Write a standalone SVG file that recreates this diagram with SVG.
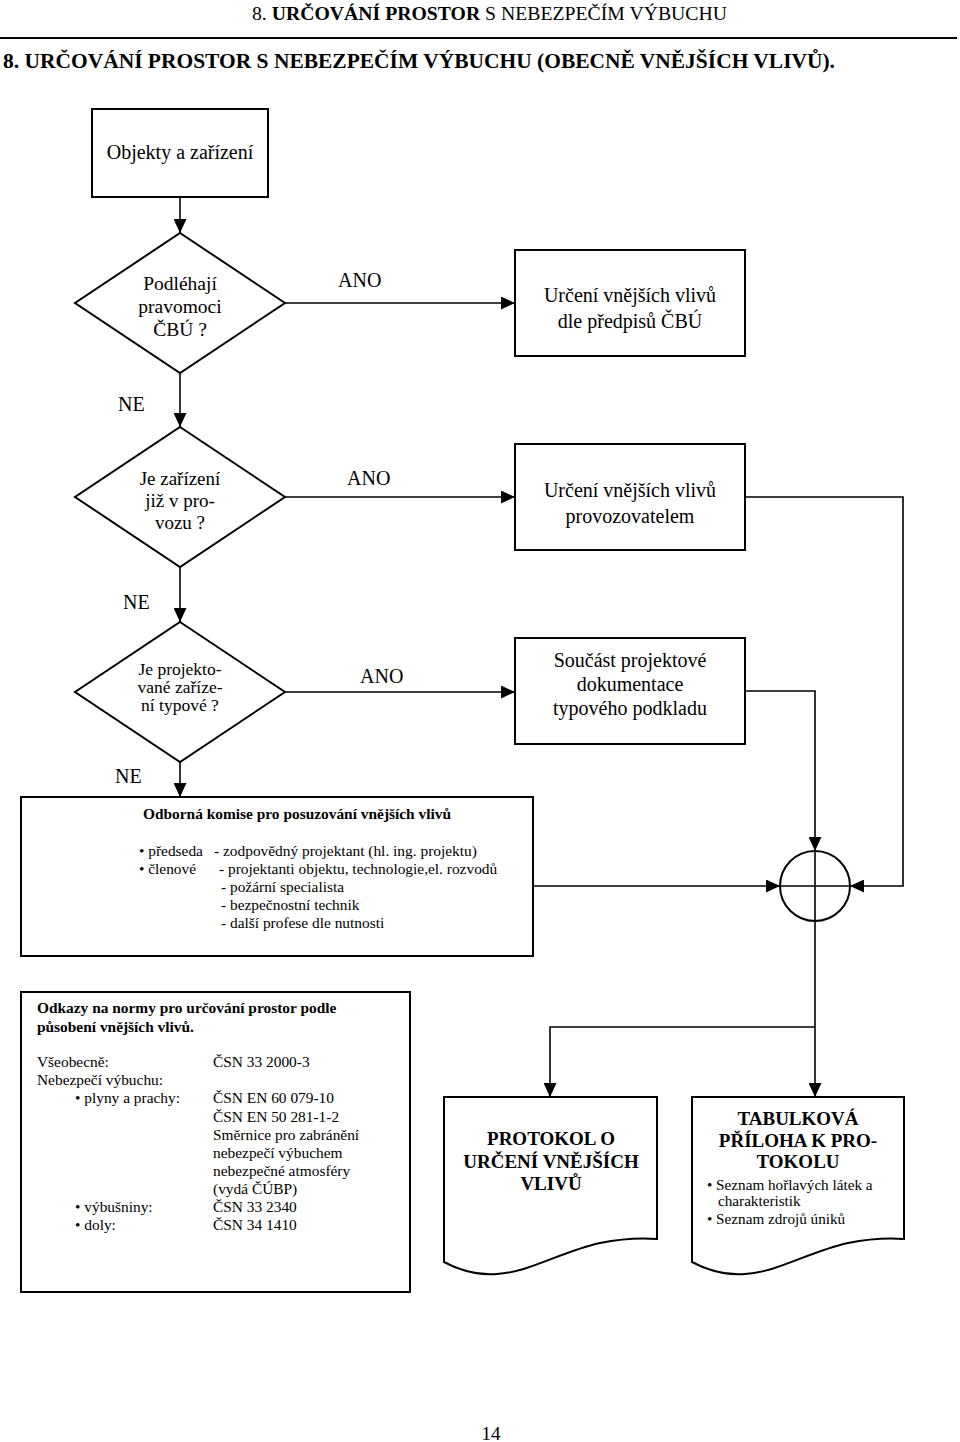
<svg xmlns="http://www.w3.org/2000/svg" width="960" height="1442" viewBox="0 0 960 1442">
<style>
text{font-family:"Liberation Serif","Times New Roman",serif;fill:#000}
.box{fill:#fff;stroke:#000;stroke-width:2}
.ln{fill:none;stroke:#000;stroke-width:1.6}
.m{text-anchor:middle}
.b{font-weight:bold}
.f20{font-size:20px}
.f19{font-size:19px}
.f17{font-size:17.5px}
.f15{font-size:15.4px}
.f14{font-size:15.2px}
</style>
<defs>
<marker id="ah" markerWidth="14" markerHeight="13" refX="14" refY="6.5" orient="auto" markerUnits="userSpaceOnUse"><path d="M0,0 L14,6.5 L0,13 Z" fill="#000"/></marker>
</defs>
<rect width="960" height="1442" fill="#fff"/>

<g id="header">
<text x="252" y="20" font-size="18" textLength="475" lengthAdjust="spacingAndGlyphs">8. <tspan font-weight="bold">URČOVÁNÍ PROSTOR</tspan> S NEBEZPEČÍM VÝBUCHU</text>
<line x1="0" y1="38" x2="957" y2="38" stroke="#000" stroke-width="2"/>
<text x="3" y="68" font-size="22" font-weight="bold" textLength="832" lengthAdjust="spacingAndGlyphs">8. URČOVÁNÍ PROSTOR S NEBEZPEČÍM VÝBUCHU (OBECNĚ VNĚJŠÍCH VLIVŮ).</text>
</g>

<g id="connectors">
<path class="ln" d="M180,197 V233" marker-end="url(#ah)"/>
<path class="ln" d="M285,303 H515" marker-end="url(#ah)"/>
<path class="ln" d="M180,373 V427" marker-end="url(#ah)"/>
<path class="ln" d="M285,497 H515" marker-end="url(#ah)"/>
<path class="ln" d="M180,567 V622" marker-end="url(#ah)"/>
<path class="ln" d="M285,692 H515" marker-end="url(#ah)"/>
<path class="ln" d="M180,762 V797" marker-end="url(#ah)"/>
<path class="ln" d="M745,497 H903 V886 H850" marker-end="url(#ah)"/>
<path class="ln" d="M745,691 H815 V851" marker-end="url(#ah)"/>
<path class="ln" d="M533,886 H780" marker-end="url(#ah)"/>
<path class="ln" d="M815,921 V1097" marker-end="url(#ah)"/>
<path class="ln" d="M815,1027 H550 V1097" marker-end="url(#ah)"/>
<text class="f20" x="338" y="287">ANO</text>
<text class="f20" x="347" y="485">ANO</text>
<text class="f20" x="360" y="683">ANO</text>
<text class="f20" x="118" y="411">NE</text>
<text class="f20" x="123" y="609">NE</text>
<text class="f20" x="115" y="783">NE</text>
</g>

<g id="n-objekty">
<rect class="box" x="92" y="109" width="176" height="88"/>
<text class="f20 m" x="180" y="159">Objekty a zařízení</text>
</g>

<g id="d-cbu">
<polygon class="box" points="180,233 285,303 180,373 75,303"/>
<text class="m" font-size="19.5" x="180" y="290">Podléhají</text>
<text class="m" font-size="19.5" x="180" y="313">pravomoci</text>
<text class="m" font-size="19.5" x="180" y="336">ČBÚ ?</text>
</g>

<g id="d-provoz">
<polygon class="box" points="180,427 285,497 180,567 75,497"/>
<text class="f19 m" x="180" y="485">Je zařízení</text>
<text class="f19 m" x="180" y="507">již v pro-</text>
<text class="f19 m" x="180" y="529">vozu ?</text>
</g>

<g id="d-typove">
<polygon class="box" points="180,622 285,692 180,762 75,692"/>
<text class="f17 m" x="180" y="675">Je  projekto-</text>
<text class="f17 m" x="180" y="693">vané zaříze-</text>
<text class="f17 m" x="180" y="711">ní typové ?</text>
</g>

<g id="n-cbu">
<rect class="box" x="515" y="250" width="230" height="106"/>
<text class="f20 m" x="630" y="302">Určení vnějších vlivů</text>
<text class="f20 m" x="630" y="328">dle předpisů ČBÚ</text>
</g>

<g id="n-provozovatel">
<rect class="box" x="515" y="444" width="230" height="106"/>
<text class="f20 m" x="630" y="497">Určení vnějších vlivů</text>
<text class="f20 m" x="630" y="523">provozovatelem</text>
</g>

<g id="n-typovy">
<rect class="box" x="515" y="638" width="230" height="106"/>
<text class="f20 m" x="630" y="667">Součást projektové</text>
<text class="f20 m" x="630" y="691">dokumentace</text>
<text class="f20 m" x="630" y="715">typového podkladu</text>
</g>

<g id="n-komise">
<rect class="box" x="21" y="797" width="512" height="159"/>
<text class="f15 b" x="143" y="819">Odborná komise pro posuzování vnějších vlivů</text>
<text class="f15" x="139" y="856">• předseda</text>
<text class="f15" x="214" y="856">- zodpovědný projektant (hl. ing. projektu)</text>
<text class="f15" x="139" y="874">• členové</text>
<text class="f15" x="219" y="874">- projektanti objektu, technologie,el. rozvodů</text>
<text class="f15" x="221" y="892">- požární specialista</text>
<text class="f15" x="221" y="910">- bezpečnostní technik</text>
<text class="f15" x="221" y="928">- další profese dle nutnosti</text>
</g>

<g id="n-junction">
<circle cx="815" cy="886" r="35" fill="none" stroke="#000" stroke-width="2"/>
<line x1="815" y1="851" x2="815" y2="921" stroke="#000" stroke-width="1.6"/>
<line x1="780" y1="886" x2="850" y2="886" stroke="#000" stroke-width="1.6"/>
</g>

<g id="n-normy">
<rect class="box" x="21" y="992" width="389" height="300"/>
<text class="f15 b" x="37" y="1013">Odkazy na normy pro určování prostor podle</text>
<text class="f15 b" x="37" y="1032">působení vnějších vlivů.</text>
<text class="f15" x="37" y="1067">Všeobecně:</text>
<text class="f15" x="213" y="1067">ČSN 33 2000-3</text>
<text class="f15" x="37" y="1085">Nebezpečí výbuchu:</text>
<text class="f15" x="75" y="1103">• plyny a prachy:</text>
<text class="f15" x="213" y="1103">ČSN EN 60 079-10</text>
<text class="f15" x="213" y="1122">ČSN EN 50 281-1-2</text>
<text class="f15" x="213" y="1140">Směrnice pro zabránění</text>
<text class="f15" x="213" y="1158">nebezpečí výbuchem</text>
<text class="f15" x="213" y="1176">nebezpečné atmosféry</text>
<text class="f15" x="213" y="1194">(vydá ČÚBP)</text>
<text class="f15" x="75" y="1212">• výbušniny:</text>
<text class="f15" x="213" y="1212">ČSN 33 2340</text>
<text class="f15" x="75" y="1230">• doly:</text>
<text class="f15" x="213" y="1230">ČSN 34 1410</text>
</g>

<g id="n-protokol">
<path class="box" d="M444,1097 H657 V1239 Q630,1237 600,1243 C560,1252 530,1272 497,1274 Q470,1276 444,1262 Z"/>
<text class="f19 b m" x="551" y="1145">PROTOKOL O</text>
<text class="f19 b m" x="551" y="1168">URČENÍ VNĚJŠÍCH</text>
<text class="f19 b m" x="551" y="1190">VLIVŮ</text>
</g>

<g id="n-tabulka">
<path class="box" d="M692,1097 H904 V1239 Q878,1237 848,1243 C808,1252 778,1272 745,1274 Q718,1276 692,1262 Z"/>
<text class="f19 b m" x="798" y="1125">TABULKOVÁ</text>
<text class="f19 b m" x="798" y="1147">PŘÍLOHA K PRO-</text>
<text class="f19 b m" x="798" y="1168">TOKOLU</text>
<text class="f14" x="707" y="1190">• Seznam hořlavých látek a</text>
<text class="f14" x="718" y="1206">charakteristik</text>
<text class="f14" x="707" y="1224">• Seznam zdrojů úniků</text>
</g>

<g id="page-number">
<text class="m" font-size="19" x="491" y="1440">14</text>
</g>
</svg>
